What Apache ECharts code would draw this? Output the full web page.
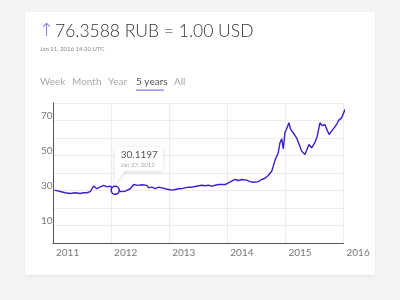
<!DOCTYPE html>
<html>
<head>
<meta charset="utf-8">
<script src="https://cdn.jsdelivr.net/npm/echarts@6/dist/echarts.min.js"></script>
<style>
html,body{margin:0;padding:0;background:#f3f4f3;width:400px;height:300px;overflow:hidden;}
#card{position:absolute;left:25px;top:12px;width:350px;height:263px;background:#fff;box-shadow:0 1px 3px rgba(0,0,0,0.08);}
#main{position:absolute;left:0;top:0;width:400px;height:300px;}
</style>
</head>
<body>
<div id="card"></div>
<div id="main"></div>
<script>
// ---- data ----
var dates = [
 '2011-01-10','2011-02-16','2011-03-19','2011-04-20','2011-05-21','2011-06-21','2011-07-12','2011-08-02',
 '2011-08-23','2011-09-13','2011-10-04','2011-10-25','2011-11-15','2011-12-06','2011-12-27','2012-01-13',
 '2012-01-27','2012-02-27','2012-03-30','2012-05-01','2012-05-22','2012-06-16','2012-07-14','2012-08-14',
 '2012-08-24','2012-09-14','2012-10-05','2012-10-26','2012-11-16','2012-12-07','2012-12-28','2013-01-18',
 '2013-02-08','2013-03-01','2013-03-22','2013-04-12','2013-05-03','2013-05-24','2013-06-14','2013-07-04',
 '2013-07-26','2013-08-15','2013-09-05','2013-09-26','2013-10-17','2013-11-07','2013-11-28','2013-12-19',
 '2014-01-08','2014-01-29','2014-02-19','2014-03-11','2014-04-02','2014-04-11','2014-05-03','2014-05-23',
 '2014-06-13','2014-06-24','2014-07-15','2014-08-05','2014-08-26','2014-09-15','2014-10-07','2014-10-17',
 '2014-10-27','2014-11-07','2014-11-17','2014-11-28','2014-12-09','2014-12-19','2014-12-29','2015-01-09',
 '2015-01-23','2015-02-03','2015-02-19','2015-03-12','2015-03-29','2015-04-13','2015-05-04','2015-05-14',
 '2015-05-29','2015-06-15','2015-07-05','2015-07-20','2015-08-06','2015-08-20','2015-09-06','2015-09-20',
 '2015-10-03','2015-10-18','2015-11-03','2015-11-18','2015-12-03','2015-12-20','2016-01-11'
];
var rates = [
 30.2,29.4,28.7,28.3,28.7,28.3,28.7,28.7,
 29.4,32.5,31.0,32.1,32.9,32.1,32.5,31.0,
 30.1197,29.4,29.6,31.0,33.4,32.9,33.3,32.9,
 31.5,31.9,31.1,31.9,31.5,31.0,30.6,30.2,
 30.6,31.0,31.1,31.5,31.9,31.9,32.3,32.7,
 33.0,32.7,33.0,32.5,33.0,33.4,33.4,33.4,
 34.4,35.3,36.3,35.7,36.3,36.7,35.9,35.1,
 34.7,34.4,35.1,36.3,37.0,38.6,41.0,43.9,
 47.1,46.7,51.5,57.3,59.5,53.8,63.0,65.3,
 68.7,64.9,63.0,60.1,56.3,52.5,50.6,50.0,
 56.3,54.4,57.3,61.0,68.7,67.1,67.7,64.5,
 62.0,63.9,65.8,67.7,70.2,71.5,76.3588
];
var yearTicks = [2011, 2012, 2013, 2014, 2015, 2016];
var yLabels = [10, 30, 50, 70];
var highlightDate = '2012-01-27';
var highlightText = '30.1197';
var highlightSub = 'Jan 27, 2012';
var titleText = '76.3588 RUB = 1.00 USD';
var subTitle = 'Jan 11, 2016 14:20 UTC';
var tabs = ['Week', 'Month', 'Year', '5 years', 'All'];
var activeTab = '5 years';

function toYear(s) {
  var p = s.split('-').map(Number);
  var d0 = Date.UTC(p[0], 0, 1), d1 = Date.UTC(p[0] + 1, 0, 1);
  return p[0] + (Date.UTC(p[0], p[1] - 1, p[2]) - d0) / (d1 - d0);
}

var LINE = '#3a20d4';
var series = dates.map(function (d, i) {
  var v = [toYear(d), rates[i]];
  if (d === highlightDate) {
    return { value: v, symbol: 'circle', symbolSize: 8,
      itemStyle: { color: '#fff', borderColor: LINE, borderWidth: 1.6 } };
  }
  return { value: v };
});

var chart = echarts.init(document.getElementById('main'), null, { renderer: 'canvas' });
var FONT = 'Lato, "Open Sans", sans-serif';

var tabX = [40, 72, 108, 136, 174];
var graphics = [
  { type: 'text', left: 39, top: 22, style: { text: '\u2191', fill: '#7d6ee6', font: '300 18px "DejaVu Sans", sans-serif' } },
  { type: 'text', left: 55, top: 22, style: { text: titleText, fill: '#333', font: '300 17.5px ' + FONT } },
  { type: 'text', left: 40, top: 46, style: { text: subTitle, fill: '#888', font: '6px ' + FONT } }
];
tabs.forEach(function (t, i) {
  graphics.push({ type: 'text', left: tabX[i], top: 77,
    style: { text: t, fill: t === activeTab ? '#555' : '#aaa', font: '10px ' + FONT } });
});

chart.setOption({
  animation: false,
  grid: { left: 53, right: 56.5, top: 103, bottom: 57 },
  xAxis: {
    type: 'value', min: yearTicks[0], max: yearTicks[yearTicks.length - 1], interval: 1,
    axisLine: { show: true, lineStyle: { color: '#555', width: 1 } },
    axisTick: { show: false },
    splitLine: { show: true, lineStyle: { color: '#ececec', width: 1 } },
    axisLabel: {
      color: '#777', fontSize: 10, fontFamily: FONT, align: 'left', margin: 5, padding: [0, 0, 0, 3],
      formatter: function (v) { return yearTicks.indexOf(Math.round(v)) >= 0 ? String(Math.round(v)) : ''; }
    }
  },
  yAxis: {
    type: 'value', min: 0, max: 80, interval: 10,
    axisLine: { show: true, lineStyle: { color: '#555', width: 1 } },
    axisTick: { show: false },
    splitLine: { show: true, lineStyle: { color: '#ececec', width: 1 } },
    axisLabel: {
      color: '#777', fontSize: 10, fontFamily: FONT, align: 'left', margin: 12, verticalAlign: 'bottom',
      formatter: function (v) { return yLabels.indexOf(v) >= 0 ? String(v) : ''; }
    }
  },
  series: [{
    type: 'line', data: series, symbol: 'none', showSymbol: true, clip: false,
    lineStyle: { color: LINE, width: 1.4 }, itemStyle: { color: LINE }, z: 3
  }],
  graphic: graphics
});

// callout anchored on the highlighted point through the chart's own scales
var hi = dates.indexOf(highlightDate);
var p = chart.convertToPixel({ gridIndex: 0 }, [toYear(highlightDate), rates[hi]]);
var bx = p[0] - 0.5, by = p[1] - 43.5, bw = 48, bh = 24;
graphics.push(
  { type: 'polygon', z: 10,
    shape: { points: [[bx, by], [bx + bw, by], [bx + bw, by + bh], [bx + 10, by + bh], [p[0], p[1] - 6], [bx, by + bh]] },
    style: { fill: '#fff', shadowBlur: 4, shadowColor: 'rgba(0,0,0,0.15)', shadowOffsetY: 1 } },
  { type: 'text', z: 11, x: bx + 6, y: by + 3, style: { text: highlightText, fill: '#555', font: '10px ' + FONT } },
  { type: 'text', z: 11, x: bx + 6, y: by + 15, style: { text: highlightSub, fill: '#aaa', font: '6px ' + FONT } },
  { type: 'rect', z: 5, shape: { x: tabX[3], y: 89.5, width: 28, height: 1.2 }, style: { fill: '#7d6ee6' } }
);
chart.setOption({ graphic: graphics }, { replaceMerge: ['graphic'] });
</script>
</body>
</html>
